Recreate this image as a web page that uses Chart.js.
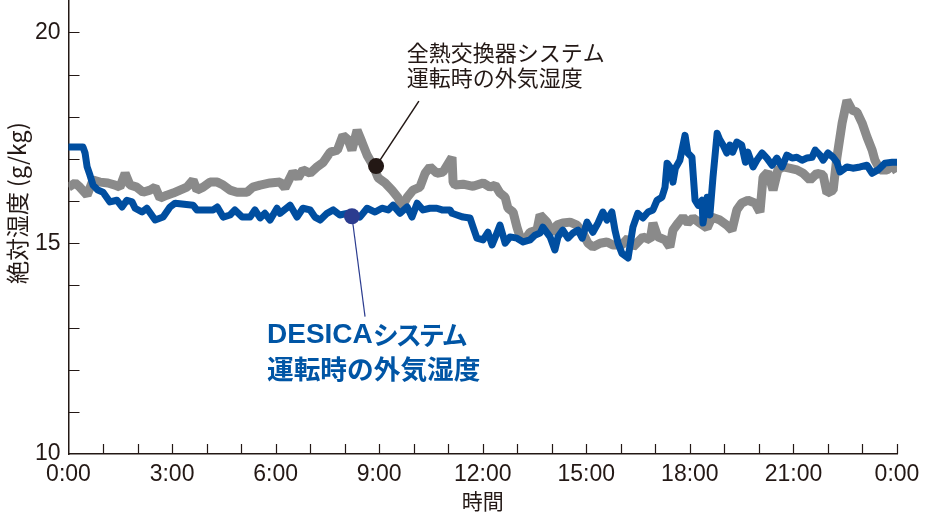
<!DOCTYPE html>
<html lang="ja">
<head>
<meta charset="utf-8">
<script src="https://cdn.jsdelivr.net/npm/chart.js@4.4.1/dist/chart.umd.min.js"></script>
<style>
  html, body { margin: 0; padding: 0; background: #fff; }
  #wrap { width: 946px; height: 514px; position: relative; }
</style>
</head>
<body>
<div id="wrap"><canvas id="chart"></canvas></div>
<script>
// tick labels
const hourLabels = ['0:00', '3:00', '6:00', '9:00', '12:00', '15:00', '18:00', '21:00', '0:00'];
const valueLabels = { 10: '10', 15: '15', 20: '20' };

// 全熱交換器システム運転時の外気湿度 (gray)
const grayHours = [0, 0.19, 0.33, 0.54, 0.71, 0.91, 1.14, 1.35, 1.49, 1.64, 1.78, 1.98, 2.16, 2.36, 2.51, 2.65, 2.85, 3.03, 3.23, 3.43,
  3.61, 3.72, 3.90, 4.10, 4.31, 4.48, 4.68, 4.88, 5.17, 5.34, 5.55, 5.84, 6.13, 6.27, 6.50, 6.65, 6.79, 7.00, 7.20, 7.38,
  7.58, 7.79, 7.95, 8.10, 8.21, 8.36, 8.50, 8.65, 8.82, 8.97, 9.17, 9.37, 9.54, 9.66, 9.81, 9.98, 10.18, 10.33, 10.47, 10.67,
  10.85, 11.11, 11.14, 11.20, 11.43, 11.72, 12.01, 12.21, 12.36, 12.50, 12.65, 12.73, 12.88, 12.99, 13.08, 13.22, 13.37, 13.57, 13.66, 13.86,
  14.01, 14.15, 14.32, 14.53, 14.73, 14.90, 15.05, 15.19, 15.40, 15.60, 15.77, 16.03, 16.21, 16.35, 16.64, 16.85, 16.93, 17.07, 17.28, 17.42,
  17.51, 17.66, 17.80, 17.94, 18.09, 18.29, 18.50, 18.64, 18.87, 19.07, 19.22, 19.36, 19.50, 19.68, 19.89, 20.03, 20.12, 20.26, 20.41, 20.55,
  20.70, 20.88, 21.10, 21.28, 21.48, 21.68, 21.86, 21.97, 22.15, 22.26, 22.41, 22.55, 22.70, 22.84, 22.99, 23.13, 23.28, 23.36, 23.51, 23.71,
  23.88, 24.00];
const grayValues = [16.33, 16.43, 16.33, 16.14, 16.50, 16.45, 16.43, 16.38, 16.33, 16.66, 16.38, 16.33, 16.21, 16.26, 16.33, 16.07, 16.14, 16.19, 16.26, 16.33,
  16.50, 16.26, 16.33, 16.45, 16.45, 16.38, 16.26, 16.21, 16.21, 16.33, 16.38, 16.43, 16.45, 16.31, 16.69, 16.55, 16.74, 16.66, 16.81, 16.92,
  17.16, 17.21, 17.56, 17.45, 17.21, 17.68, 17.40, 17.09, 16.85, 16.55, 16.43, 16.26, 16.09, 15.86, 16.09, 16.26, 16.33, 16.66, 16.81, 16.66,
  16.69, 17.04, 16.45, 16.38, 16.40, 16.35, 16.43, 16.33, 16.38, 16.19, 16.09, 15.83, 15.74, 15.38, 15.15, 15.08, 15.26, 15.31, 15.67, 15.50,
  15.24, 15.43, 15.48, 15.50, 15.43, 15.24, 15.00, 14.91, 15.00, 15.03, 14.96, 14.96, 15.12, 14.91, 15.15, 15.08, 15.48, 15.15, 15.08, 14.91,
  15.31, 15.48, 15.62, 15.48, 15.60, 15.48, 15.36, 15.62, 15.55, 15.43, 15.31, 15.79, 15.95, 16.02, 15.95, 15.74, 16.57, 16.69, 16.26, 16.74,
  16.81, 16.78, 16.74, 16.66, 16.50, 16.66, 16.62, 16.19, 16.26, 17.04, 17.85, 18.39, 18.16, 18.11, 17.85, 17.52, 17.21, 16.97, 16.74, 16.74,
  16.85, 16.69];

// DESICAシステム運転時の外気湿度 (blue)
const blueHours = [0, 0.42, 0.48, 0.54, 0.62, 0.71, 0.85, 1.00, 1.20, 1.40, 1.55, 1.69, 1.84, 1.93, 2.13, 2.27, 2.51, 2.74, 2.94, 3.09,
  3.61, 3.72, 4.19, 4.31, 4.48, 4.68, 4.82, 5.03, 5.26, 5.40, 5.55, 5.69, 5.84, 6.04, 6.13, 6.42, 6.62, 6.79, 7.00, 7.14,
  7.29, 7.49, 7.67, 7.86, 8.07, 8.44, 8.65, 8.88, 9.08, 9.26, 9.40, 9.60, 9.81, 9.95, 10.10, 10.27, 10.47, 10.67, 10.82, 11.05,
  11.11, 11.25, 11.43, 11.63, 11.72, 11.83, 12.01, 12.15, 12.27, 12.41, 12.50, 12.65, 12.79, 12.99, 13.17, 13.37, 13.51, 13.66, 13.74, 13.95,
  14.09, 14.18, 14.32, 14.47, 14.61, 14.76, 14.88, 15.02, 15.19, 15.34, 15.48, 15.60, 15.74, 15.83, 15.92, 16.03, 16.18, 16.21, 16.35, 16.49,
  16.64, 16.79, 16.93, 17.05, 17.19, 17.28, 17.34, 17.42, 17.51, 17.58, 17.71, 17.86, 17.94, 18.06, 18.15, 18.24, 18.35, 18.38, 18.50, 18.58,
  18.67, 18.79, 18.87, 18.96, 19.07, 19.16, 19.24, 19.36, 19.50, 19.61, 19.68, 19.83, 19.94, 20.09, 20.23, 20.38, 20.52, 20.67, 20.81, 20.96,
  21.10, 21.25, 21.39, 21.54, 21.63, 21.77, 21.86, 22.00, 22.15, 22.26, 22.35, 22.55, 22.72, 22.93, 23.13, 23.28, 23.45, 23.65, 23.86, 24.00];
const blueValues = [17.28, 17.28, 17.14, 16.81, 16.62, 16.38, 16.26, 16.21, 15.98, 16.02, 15.86, 16.02, 15.98, 15.83, 15.74, 15.83, 15.55, 15.62, 15.86, 15.95,
  15.90, 15.79, 15.79, 15.86, 15.62, 15.67, 15.79, 15.62, 15.62, 15.79, 15.60, 15.71, 15.55, 15.83, 15.71, 15.90, 15.62, 15.83, 15.79, 15.62,
  15.55, 15.71, 15.79, 15.67, 15.71, 15.62, 15.83, 15.74, 15.83, 15.79, 15.90, 15.71, 15.86, 15.62, 15.95, 15.79, 15.83, 15.83, 15.79, 15.79,
  15.71, 15.67, 15.62, 15.60, 15.38, 15.12, 15.08, 15.26, 14.96, 15.24, 15.43, 15.00, 15.15, 15.12, 15.03, 15.08, 15.19, 15.24, 15.38, 15.15,
  14.84, 15.15, 15.31, 15.12, 15.24, 15.31, 15.12, 15.50, 15.26, 15.48, 15.74, 15.55, 15.74, 15.31, 15.00, 14.76, 14.67, 14.65, 15.38, 15.71,
  15.60, 15.74, 15.79, 16.02, 16.09, 16.33, 16.90, 16.81, 16.45, 16.78, 16.97, 17.56, 17.14, 17.04, 16.02, 15.90, 16.02, 15.48, 16.09, 15.67,
  16.57, 17.61, 17.45, 17.33, 17.14, 17.33, 17.16, 17.40, 17.33, 16.92, 17.16, 16.81, 16.97, 17.14, 17.02, 16.85, 17.02, 16.81, 17.09, 17.02,
  17.04, 16.97, 17.02, 17.04, 17.21, 17.09, 16.97, 17.14, 17.04, 16.92, 16.69, 16.81, 16.78, 16.81, 16.85, 16.66, 16.74, 16.90, 16.92, 16.92];

const ink = '#231815';
const grayColor = '#8a8a8a';
const blueColor = '#004ea0';
const blueText = '#0055a5';
const dotBlue = '#2b3c8f';

const toPoints = (xs, ys) => xs.map((x, i) => ({ x: x, y: ys[i] }));

// leader notes, positions in data units (hours, g/kg)
const notes = {
  gray: { dot: [8.91, 16.83], end: [10.15, 18.37], text: [9.8, 19.53, 18.94] },
  blue: { dot: [8.21, 15.64], end: [8.59, 13.26], text: [5.75, 12.81, 12.03] }
};

const innerTicks = {
  id: 'innerTicks',
  beforeDatasetsDraw(chart) {
    const { ctx, chartArea: a, scales: { x, y } } = chart;
    ctx.save();
    ctx.strokeStyle = ink;
    ctx.lineWidth = 1.2;
    ctx.beginPath();
    for (let h = 1; h <= 24; h++) {
      const px = Math.round(x.getPixelForValue(h)) + 0.5;
      ctx.moveTo(px, a.bottom);
      ctx.lineTo(px, a.bottom - 10);
    }
    for (let v = 11; v <= 20; v++) {
      const py = Math.round(y.getPixelForValue(v)) + 0.5;
      ctx.moveTo(a.left, py);
      ctx.lineTo(a.left + 11, py);
    }
    ctx.stroke();

    // y axis title, a little above the plot centre as in the print
    ctx.fillStyle = ink;
    ctx.font = '23px "Noto Sans CJK JP"';
    ctx.textAlign = 'center';
    ctx.textBaseline = 'middle';
    ctx.translate(17, y.getPixelForValue(15.95));
    ctx.rotate(-Math.PI / 2);
    ctx.fillText('絶対湿度 (g/kg)', 0, 0);
    ctx.restore();
  }
};

const leaderNotes = {
  id: 'leaderNotes',
  afterDatasetsDraw(chart) {
    const { ctx, scales: { x, y } } = chart;
    const px = h => x.getPixelForValue(h);
    const py = v => y.getPixelForValue(v);
    ctx.save();

    // gray note
    let n = notes.gray;
    ctx.strokeStyle = ink;
    ctx.lineWidth = 1.5;
    ctx.beginPath();
    ctx.moveTo(px(n.dot[0]), py(n.dot[1]));
    ctx.lineTo(px(n.end[0]), py(n.end[1]));
    ctx.stroke();
    ctx.fillStyle = ink;
    ctx.beginPath();
    ctx.arc(px(n.dot[0]), py(n.dot[1]), 8, 0, Math.PI * 2);
    ctx.fill();
    ctx.font = '22px "Noto Sans CJK JP"';
    ctx.textBaseline = 'middle';
    ctx.textAlign = 'left';
    ctx.fillText('全熱交換器システム', px(n.text[0]), py(n.text[1]));
    ctx.fillText('運転時の外気湿度', px(n.text[0]), py(n.text[2]));

    // blue note
    n = notes.blue;
    ctx.strokeStyle = dotBlue;
    ctx.lineWidth = 1.2;
    ctx.beginPath();
    ctx.moveTo(px(n.dot[0]), py(n.dot[1]));
    ctx.lineTo(px(n.end[0]), py(n.end[1]));
    ctx.stroke();
    ctx.fillStyle = dotBlue;
    ctx.beginPath();
    ctx.arc(px(n.dot[0]), py(n.dot[1]), 8, 0, Math.PI * 2);
    ctx.fill();
    ctx.fillStyle = blueText;
    const tx = px(n.text[0]);
    ctx.font = 'bold 28px "Liberation Sans"';
    ctx.fillText('DESICA', tx, py(n.text[1]));
    const w = ctx.measureText('DESICA').width;
    ctx.font = 'bold 26px "Noto Sans CJK JP"';
    ctx.letterSpacing = '-3px';
    ctx.fillText('システム', tx + w, py(n.text[1]));
    ctx.letterSpacing = '0px';
    ctx.font = 'bold 26.7px "Noto Sans CJK JP"';
    ctx.fillText('運転時の外気湿度', tx, py(n.text[2]));
    ctx.restore();
  }
};

const tickFont = { family: '"Liberation Sans", Arial, sans-serif', size: 23 };

new Chart(document.getElementById('chart'), {
  type: 'line',
  data: {
    datasets: [
      {
        label: 'DESICAシステム運転時の外気湿度',
        data: toPoints(blueHours, blueValues),
        borderColor: blueColor,
        borderWidth: 7,
        borderJoinStyle: 'round',
        borderCapStyle: 'round',
        pointRadius: 0,
        tension: 0,
        order: 0
      },
      {
        label: '全熱交換器システム運転時の外気湿度',
        data: toPoints(grayHours, grayValues),
        borderColor: grayColor,
        borderWidth: 9,
        borderJoinStyle: 'bevel',
        borderCapStyle: 'butt',
        pointRadius: 0,
        tension: 0,
        order: 1
      }
    ]
  },
  options: {
    responsive: true,
    maintainAspectRatio: false,
    animation: false,
    layout: { padding: { left: 0, right: 49, top: 0, bottom: 0 } },
    plugins: { legend: { display: false }, tooltip: { enabled: false } },
    scales: {
      x: {
        type: 'linear',
        min: 0,
        max: 24,
        grid: { drawOnChartArea: false, drawTicks: false },
        border: { color: ink, width: 1.5 },
        ticks: {
          stepSize: 3,
          autoSkip: false,
          maxRotation: 0,
          padding: 7,
          color: ink,
          font: tickFont,
          callback: (v, i) => hourLabels[i]
        },
        title: {
          display: true,
          text: '時間',
          color: ink,
          font: { family: '"Noto Sans CJK JP"', size: 21, lineHeight: 1.0 },
          padding: { top: 0, bottom: 2 }
        },
        afterFit: s => { s.height = 60; s.paddingLeft = 0; s.paddingRight = 0; }
      },
      y: {
        min: 10,
        max: 20.77,
        grid: { drawOnChartArea: false, drawTicks: false },
        border: { color: ink, width: 1.5 },
        ticks: {
          stepSize: 5,
          includeBounds: false,
          padding: 8,
          color: ink,
          font: tickFont,
          callback: v => valueLabels[v] || ''
        },
        afterFit: s => { s.width = 68.5; s.paddingTop = 0; s.paddingBottom = 0; }
      }
    }
  },
  plugins: [innerTicks, leaderNotes]
});
</script>
</body>
</html>
